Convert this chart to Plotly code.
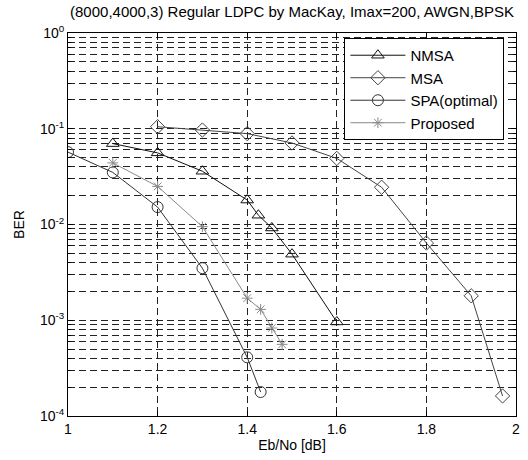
import plotly.graph_objects as go

nmsa_x = [1.1, 1.2, 1.3, 1.4, 1.425, 1.455, 1.5, 1.6]
nmsa_y = [0.070, 0.056, 0.036, 0.018, 0.0125, 0.0092, 0.0049, 0.00096]

msa_x = [1.2, 1.3, 1.4, 1.5, 1.6, 1.7, 1.8, 1.9, 1.97]
msa_y = [0.105, 0.097, 0.089, 0.071, 0.049, 0.0245, 0.0064, 0.0018, 0.000162]

spa_x = [1.0, 1.1, 1.2, 1.3, 1.4, 1.43]
spa_y = [0.057, 0.035, 0.0152, 0.0035, 0.00041, 0.000178]

prop_x = [1.1, 1.2, 1.3, 1.4, 1.43, 1.455, 1.478]
prop_y = [0.044, 0.025, 0.0095, 0.0017, 0.0013, 0.00083, 0.00056]

x_ticks = [1, 1.2, 1.4, 1.6, 1.8, 2]
x_ticktext = ["1", "1.2", "1.4", "1.6", "1.8", "2"]
y_ticks = [1e-4, 1e-3, 1e-2, 1e-1, 1]
y_ticktext = ["10<sup>-4</sup>", "10<sup>-3</sup>", "10<sup>-2</sup>", "10<sup>-1</sup>", "10<sup>0</sup>"]
y_minor = [m * 10.0 ** e for e in range(-4, 0) for m in range(2, 10)]

fig = go.Figure()

def add(x, y, name, color, symbol, size):
    fig.add_trace(go.Scatter(
        x=x, y=y, name=name, mode="lines+markers",
        line=dict(color=color, width=1),
        marker=dict(symbol=symbol, size=size, color=color,
                    line=dict(color=color, width=1)),
    ))

add(nmsa_x, nmsa_y, "NMSA", "#111111", "triangle-up-open", 11)
add(msa_x, msa_y, "MSA", "#444444", "diamond-open", 11)
add(spa_x, spa_y, "SPA(optimal)", "#333333", "circle-open", 11)
add(prop_x, prop_y, "Proposed", "#8a8a8a", "asterisk-open", 9)

grid = dict(gridcolor="#222222", gridwidth=1, griddash="7px,4px")

fig.update_layout(
    width=528, height=460,
    margin=dict(l=68, r=12, t=33, b=44, autoexpand=False),
    paper_bgcolor="white", plot_bgcolor="white",
    font=dict(family="Liberation Sans, Arial, sans-serif", size=14, color="black"),
    title=dict(text="(8000,4000,3) Regular LDPC by MacKay, Imax=200, AWGN,BPSK",
               x=0.5, xref="paper", xanchor="center", y=0.974, yanchor="middle",
               font=dict(size=15)),
    showlegend=True,
    legend=dict(x=0.617, y=0.987, xanchor="left", yanchor="top",
                bordercolor="black", borderwidth=1, bgcolor="white",
                font=dict(size=15), tracegroupgap=0, itemwidth=55,
                entrywidth=158, entrywidthmode="pixels"),
    xaxis=dict(range=[1, 2], tickvals=x_ticks, ticktext=x_ticktext,
               showline=True, linecolor="black", linewidth=1, mirror="ticks",
               ticks="inside", ticklen=5, tickcolor="black", automargin=False,
               showgrid=True, zeroline=False,
               title=dict(text="Eb/No [dB]", standoff=4, font=dict(size=14)),
               **grid),
    yaxis=dict(type="log", range=[-4, 0], tickvals=y_ticks, ticktext=y_ticktext,
               showline=True, linecolor="black", linewidth=1, mirror="ticks",
               ticks="inside", ticklen=5, tickcolor="black", automargin=False,
               showgrid=True, zeroline=False,
               title=dict(text="BER", standoff=12, font=dict(size=14)),
               minor=dict(tickmode="array", tickvals=y_minor, ticks="inside",
                          ticklen=3, tickcolor="black", showgrid=True,
                          gridcolor="#222222", gridwidth=1, griddash="7px,4px"),
               **grid),
)

fig.write_html("out.html", config={"displayModeBar": False},
               post_script="document.body.style.margin='0px';")
